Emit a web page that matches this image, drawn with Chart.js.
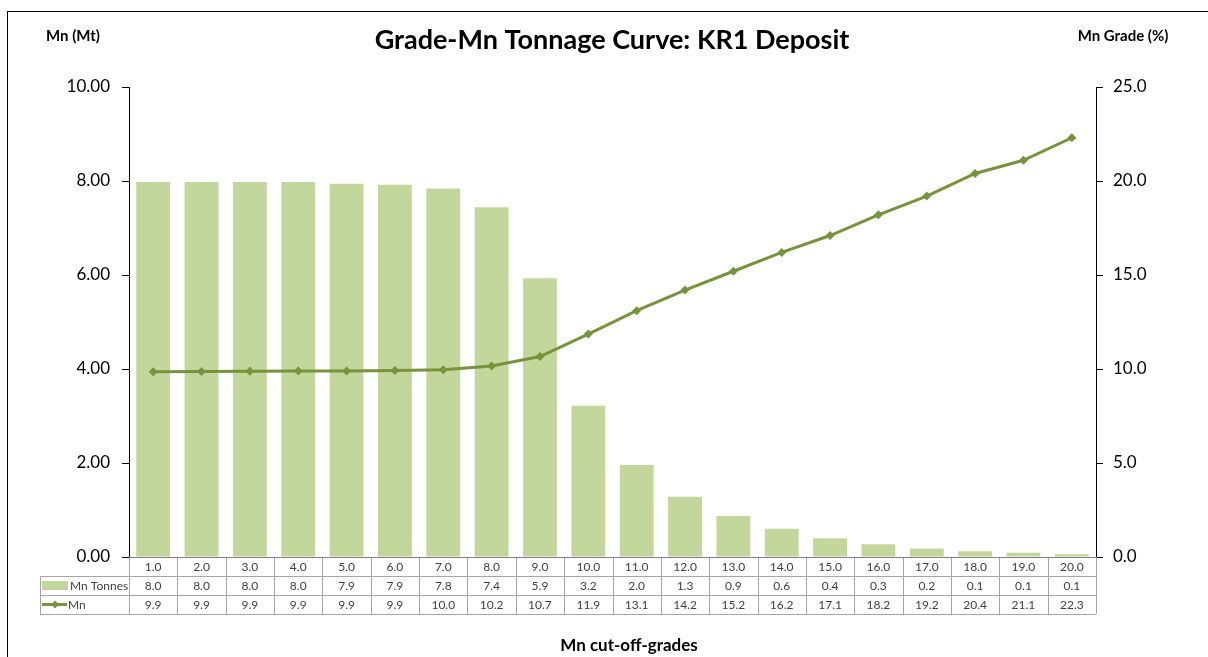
<!DOCTYPE html>
<html>
<head>
<meta charset="utf-8">
<script src="https://cdn.jsdelivr.net/npm/chart.js@4"></script>
<style>
  html, body { margin: 0; padding: 0; background: #fff; }
  #wrap { width: 1208px; height: 657px; position: relative; }
</style>
</head>
<body>
<div id="wrap"><canvas id="gradeChart" width="1208" height="657"></canvas></div>
<script>
// cut-off grades (x categories)
const cutoffs = ['1.0','2.0','3.0','4.0','5.0','6.0','7.0','8.0','9.0','10.0',
                 '11.0','12.0','13.0','14.0','15.0','16.0','17.0','18.0','19.0','20.0'];
// Mn tonnes (Mt) - bars, left axis
const mnTonnes = [7.98, 7.98, 7.98, 7.98, 7.94, 7.92, 7.84, 7.44, 5.93, 3.22,
                  1.96, 1.28, 0.87, 0.60, 0.40, 0.27, 0.18, 0.12, 0.09, 0.06];
// Mn grade (%) - line, right axis
const mnGrade = [9.86, 9.87, 9.88, 9.89, 9.90, 9.92, 9.96, 10.16, 10.66, 11.86,
                 13.1, 14.2, 15.2, 16.2, 17.1, 18.2, 19.2, 20.4, 21.1, 22.3];
const leftTicks = [0, 2, 4, 6, 8, 10];
const rightTicks = [0, 5, 10, 15, 20, 25];

const FONT = 'Lato, "Open Sans", sans-serif';
const barColor = '#c3d69b';
const lineColor = '#77933c';

// draws title, axis titles, frame and the data table under the plot
const extrasPlugin = {
  id: 'extras',
  afterDraw(chart) {
    const ctx = chart.ctx;
    const xs = chart.scales.x;
    const area = chart.chartArea;
    const n = cutoffs.length;
    const step = (area.right - area.left) / n;
    const rowH = 19;
    const legLeft = 40;

    ctx.save();
    // outer frame
    ctx.strokeStyle = '#000';
    ctx.lineWidth = 1;
    ctx.strokeRect(7.5, 11.5, 1260, 700);

    // titles
    ctx.fillStyle = '#000';
    ctx.textAlign = 'center';
    ctx.textBaseline = 'middle';
    ctx.font = 'bold 27px ' + FONT;
    ctx.fillText('Grade-Mn Tonnage Curve: KR1 Deposit', 612, 40);
    ctx.font = 'bold 15px ' + FONT;
    ctx.fillText('Mn (Mt)', 73, 36);
    ctx.fillText('Mn Grade (%)', 1123, 36);
    ctx.font = 'bold 17px ' + FONT;
    ctx.fillText('Mn cut-off-grades', 629, 646);

    // table grid
    ctx.strokeStyle = '#a6a6a6';
    ctx.lineWidth = 1;
    const top = area.bottom;
    ctx.beginPath();
    for (let i = 0; i <= n; i++) {
      const x = Math.round(area.left + i * step) + 0.5;
      ctx.moveTo(x, top);
      ctx.lineTo(x, top + 3 * rowH);
    }
    for (let r = 1; r <= 3; r++) {
      const y = Math.round(top + r * rowH) + 0.5;
      ctx.moveTo(legLeft, y);
      ctx.lineTo(area.right, y);
    }
    ctx.moveTo(legLeft + 0.5, top + rowH);
    ctx.lineTo(legLeft + 0.5, top + 3 * rowH);
    ctx.stroke();

    // x axis line
    ctx.strokeStyle = '#7f7f7f';
    ctx.beginPath();
    ctx.moveTo(area.left, Math.round(top) + 0.5);
    ctx.lineTo(area.right, Math.round(top) + 0.5);
    ctx.stroke();

    // table values
    ctx.fillStyle = '#404040';
    ctx.font = '12px ' + FONT;
    ctx.textAlign = 'center';
    for (let i = 0; i < n; i++) {
      const x = xs.getPixelForValue(i);
      ctx.fillText(cutoffs[i], x, top + rowH * 0.5 + 1);
      ctx.fillText(mnTonnes[i].toFixed(1), x, top + rowH * 1.5 + 1);
      ctx.fillText(mnGrade[i].toFixed(1), x, top + rowH * 2.5 + 1);
    }

    // legend keys
    ctx.fillStyle = barColor;
    ctx.fillRect(42, top + rowH + 5, 26, 9);
    ctx.strokeStyle = lineColor;
    ctx.lineWidth = 3;
    ctx.beginPath();
    ctx.moveTo(42, top + rowH * 2.5);
    ctx.lineTo(67, top + rowH * 2.5);
    ctx.stroke();
    ctx.fillStyle = lineColor;
    ctx.beginPath();
    const cx = 55, cy = top + rowH * 2.5;
    ctx.moveTo(cx, cy - 4); ctx.lineTo(cx + 4, cy); ctx.lineTo(cx, cy + 4); ctx.lineTo(cx - 4, cy);
    ctx.closePath();
    ctx.fill();
    ctx.fillStyle = '#404040';
    ctx.textAlign = 'left';
    ctx.fillText('Mn Tonnes', 70, top + rowH * 1.5 + 1);
    ctx.fillText('Mn', 68, top + rowH * 2.5 + 1);
    ctx.restore();
  }
};

new Chart(document.getElementById('gradeChart'), {
  data: {
    labels: cutoffs,
    datasets: [
      {
        type: 'line',
        label: 'Mn',
        data: mnGrade,
        yAxisID: 'y1',
        borderColor: lineColor,
        backgroundColor: lineColor,
        borderWidth: 3,
        pointStyle: 'rectRot',
        pointRadius: 4.5,
        pointBorderWidth: 0,
        tension: 0,
        order: 0
      },
      {
        type: 'bar',
        label: 'Mn Tonnes',
        data: mnTonnes,
        yAxisID: 'y',
        backgroundColor: barColor,
        borderWidth: 0,
        barPercentage: 0.7,
        categoryPercentage: 1.0,
        order: 1
      }
    ]
  },
  options: {
    responsive: false,
    animation: false,
    layout: { padding: { top: 87, bottom: 100, left: 0, right: 0 } },
    plugins: {
      legend: { display: false },
      tooltip: { enabled: false }
    },
    scales: {
      x: {
        display: false,
        offset: true
      },
      y: {
        position: 'left',
        min: 0,
        max: 10,
        afterBuildTicks: (s) => { s.ticks = leftTicks.map(v => ({ value: v })); },
        afterFit: (s) => { s.width = 129; },
        border: { display: true, color: '#000', width: 1 },
        grid: { drawOnChartArea: false, drawTicks: true, tickLength: 7, color: '#000' },
        ticks: {
          padding: 12,
          color: '#000',
          font: { family: FONT, size: 17 },
          callback: (v) => Number(v).toFixed(2)
        }
      },
      y1: {
        position: 'right',
        min: 0,
        max: 25,
        afterBuildTicks: (s) => { s.ticks = rightTicks.map(v => ({ value: v })); },
        afterFit: (s) => { s.width = 1208 - 1096; },
        border: { display: true, color: '#000', width: 1 },
        grid: { drawOnChartArea: false, drawTicks: true, tickLength: 7, color: '#000' },
        ticks: {
          padding: 10,
          color: '#000',
          font: { family: FONT, size: 17 },
          callback: (v) => Number(v).toFixed(1)
        }
      }
    }
  },
  plugins: [extrasPlugin]
});
</script>
</body>
</html>
